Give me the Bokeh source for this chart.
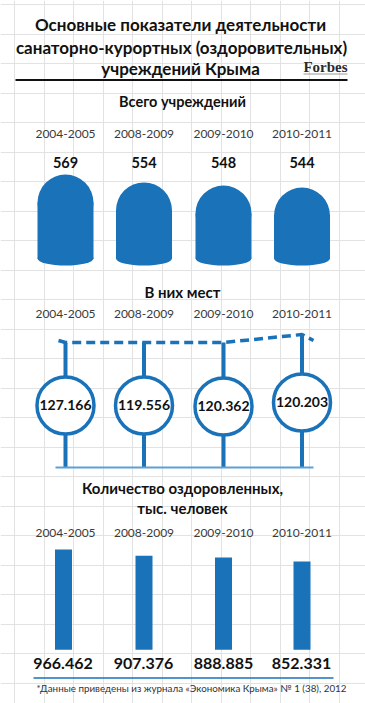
from bokeh.plotting import figure
from bokeh.models import Range1d, FixedTicker, ColumnDataSource
from bokeh.core.properties import value
from bokeh.embed import file_html
from bokeh.resources import INLINE

# ---------------- data ----------------
periods = ["2004-2005", "2008-2009", "2009-2010", "2010-2011"]
institutions = [569, 554, 548, 544]             # всего учреждений
places = [127166, 119556, 120362, 120203]        # в них мест
recovered = [966.462, 907.376, 888.885, 852.331] # тыс. человек

title_lines = ["Основные показатели деятельности",
               "санаторно-курортных (оздоровительных)",
               "учреждений Крыма"]
head1 = "Всего учреждений"
head2 = "В них мест"
head3 = ["Количество оздоровленных,", "тыс. человек"]
footnote = "*Данные приведены из журнала «Экономика Крыма» № 1 (38), 2012"
brand = "Forbes"

# ---------------- layout / style ----------------
W, H = 365, 703
X0, Y0 = 0, 0
BLUE = "#1a72b9"
LIGHT = "#5d9fd6"
FONT = value("Lato")
col_x = [65, 143.5, 223, 301.5]

p = figure(width=W, height=H, output_backend="svg", toolbar_location=None,
           x_range=Range1d(X0, X0 + W), y_range=Range1d(Y0 + H, Y0),
           min_border=0, background_fill_color="white")
p.outline_line_color = None
p.axis.visible = False
p.xgrid.ticker = FixedTicker(ticks=[14 + 29.5 * k for k in range(13)])
p.ygrid.ticker = FixedTicker(ticks=[4 + 29.5 * k for k in range(24)])
p.grid.grid_line_color = "#e2e2e2"
p.grid.grid_line_width = 1


def px_range(base_px, base_val, px_per_unit):
    return Range1d(start=base_val - (Y0 + H - base_px) / px_per_unit,
                   end=base_val + (base_px - Y0) / px_per_unit)


INST_PX, INST_VAL, INST_K = 262, 400, 0.52
OZD_PX, OZD_K = 649.3, 0.1037
p.extra_y_ranges = {"inst": px_range(INST_PX, INST_VAL, INST_K),
                    "ozd": px_range(OZD_PX, 0, OZD_K)}


def txt(x, y, t, size, bold=False, color="#111111", align="center", font=FONT):
    p.text(x=x, y=y, text=t, text_font=font, text_font_size=size,
           text_font_style="bold" if bold else "normal", text_color=color,
           text_align=align, text_baseline="middle")


# ---------------- title ----------------
txt([180, 181, 180], [24, 46.5, 68], title_lines, "17px", bold=True)
txt([325], [66.5], [brand], "15px", bold=True, color="#2a2a2a",
    font=value("Liberation Serif"))
p.segment(x0=[303], y0=[73.5], x1=[347], y1=[73.5], line_color="#9a9a9a", line_width=1)
p.segment(x0=[15], y0=[79.5], x1=[347], y1=[79.5], line_color="#111111", line_width=2)

# ---------------- panel 1: всего учреждений ----------------
txt([182], [100.5], [head1], "14.5px", bold=True)
txt(col_x, [133] * 4, periods, "12px", color="#3a3a3a")
txt(col_x, [162] * 4, [str(v) for v in institutions], "14.5px", bold=True)

R1 = 28
r_units = R1 / INST_K
base1 = INST_VAL + 4 / INST_K
src1 = ColumnDataSource(dict(x=col_x, top=[v - r_units for v in institutions]))
p.vbar(x="x", width=2 * R1, bottom=base1, top="top", source=src1,
       y_range_name="inst", fill_color=BLUE, line_color=None)
p.scatter(x="x", y="top", size=2 * R1, marker="circle", source=src1,
          y_range_name="inst", fill_color=BLUE, line_color=None)
p.ellipse(x=col_x, y=[258] * 4, width=2 * R1, height=14,
          fill_color=BLUE, line_color=None)

# ---------------- panel 2: в них мест ----------------
txt([182], [291.5], [head2], "15px", bold=True)
txt(col_x, [313] * 4, periods, "12px", color="#3a3a3a")
stem_top = [342.5, 342, 342, 335]
circ_y = [405, 405, 406, 402]
p.segment(x0=col_x, y0=stem_top, x1=col_x, y1=[467] * 4, line_color=BLUE, line_width=4)
p.line(x=[58] + col_x + [313], y=[340] + [342, 342, 342, 334] + [340],
       line_color=BLUE, line_width=3.5, line_dash="9 5")
p.segment(x0=[55], y0=[467], x1=[313], y1=[467], line_color=LIGHT, line_width=2)
p.scatter(x=col_x, y=circ_y, size=57, marker="circle", fill_color="white",
          line_color=BLUE, line_width=3.5)
txt(col_x, [y - 0.5 for y in circ_y],
    [f"{v:,}".replace(",", ".") for v in places], "14px", bold=True)

# ---------------- panel 3: оздоровленные ----------------
txt([182, 182], [487, 507], head3, "15px", bold=True)
txt(col_x, [532] * 4, periods, "12px", color="#3a3a3a")
p.vbar(x=[63, 143.5, 223, 301.5], width=17, bottom=0, top=recovered,
       y_range_name="ozd", fill_color=BLUE, line_color=None)
txt([62.5, 143, 223, 301], [662.5] * 4, [f"{v:.3f}" for v in recovered], "16px", bold=True)
p.segment(x0=[33], y0=[677.5], x1=[333], y1=[677.5], line_color=BLUE, line_width=1.5)
txt([36], [687], [footnote], "9.8px", color="#333333", align="left")

open("out.html", "w").write(file_html(p, INLINE))
